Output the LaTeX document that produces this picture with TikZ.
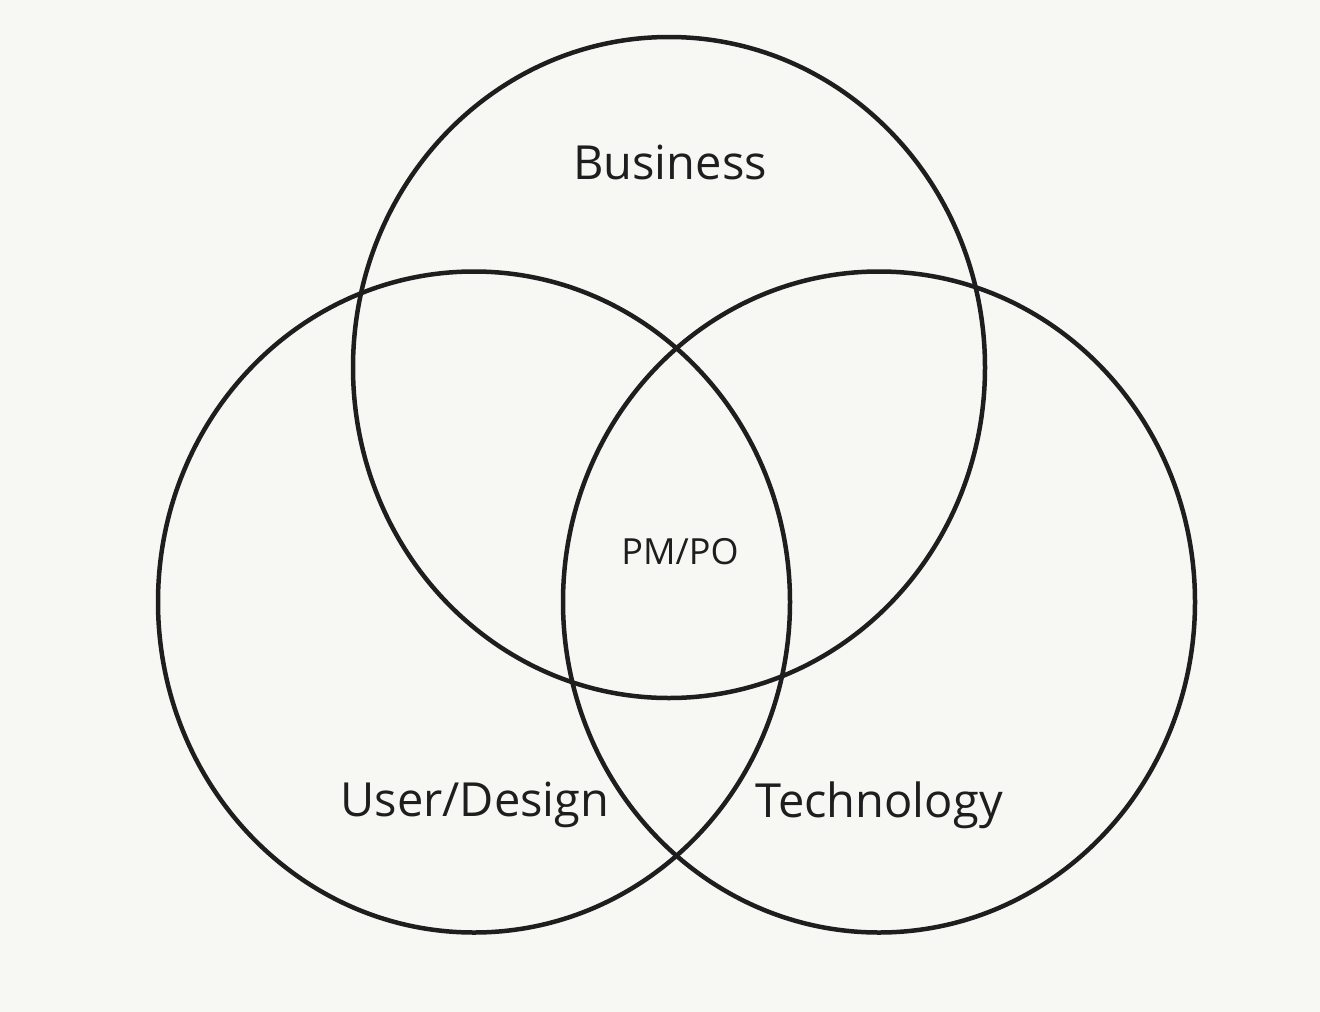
\documentclass[tikz,border=0pt]{standalone}
\usepackage{fontspec}
\setmainfont{Open Sans}
\definecolor{bg}{HTML}{F7F8F3}
\definecolor{ink}{HTML}{1E1E1E}
\begin{document}
\begin{tikzpicture}[x=1pt,y=-1pt,
  ring/.style={draw=ink,line width=4.5pt},
  big/.style={text=ink,font=\fontsize{47}{50}\selectfont,inner sep=0pt},
  small/.style={text=ink,font=\fontsize{36}{40}\selectfont,inner sep=0pt}]
\fill[bg] (0,0) rectangle (1320,1012);
\useasboundingbox (0,0) rectangle (1320,1012);
\draw[ring] (669,367.5) ellipse [x radius=316,y radius=330.5];
\draw[ring] (474,602) ellipse [x radius=316,y radius=330.5];
\draw[ring] (879,602) ellipse [x radius=316,y radius=330.5];
\node[big] (business) at (670,162) {Business};
\node[big] (user) at (475,805) {User/Design};
\node[big] (tech) at (879,805) {Technology};
\node[small] (pm) at (680,552) {PM/PO};
\end{tikzpicture}
\end{document}
